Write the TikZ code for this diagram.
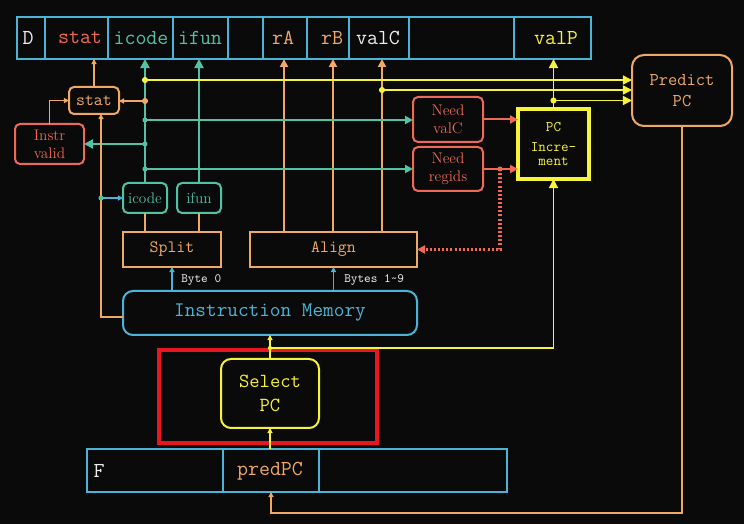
\documentclass[tikz,border=0pt]{standalone}
\usepackage{fontspec}
\usetikzlibrary{arrows.meta}
\definecolor{bgc}{HTML}{0A0A0A}
\definecolor{cblue}{HTML}{4CB4D6}
\definecolor{cteal}{HTML}{52C2A4}
\definecolor{corange}{HTML}{F0A965}
\definecolor{csalmon}{HTML}{EE6A56}
\definecolor{cyellow}{HTML}{F7F23A}
\definecolor{cred}{HTML}{E8161E}
\definecolor{cwhite}{HTML}{EEEEEE}
\tikzset{
  BigT/.tip={Triangle[length=6.8pt,width=6.8pt]},
  MidT/.tip={Triangle[length=6pt,width=6pt]},
  SmT/.tip={Triangle[length=3.8pt,width=3.8pt]},
  sz/.style 2 args={minimum width=#1*0.75pt,minimum height=#2*0.75pt},
  box/.style={inner sep=0pt,outer sep=0pt,align=center},
  cell/.style={box,draw=cblue,line width=1.8pt},
  regtxt/.style={inner sep=0pt,font=\ttfamily\fontsize{16}{19}\selectfont},
  ttbox/.style={box,line width=1.5pt,draw=corange,text=corange,font=\ttfamily\fontsize{13}{16}\selectfont},
  serifbox/.style={box,line width=1.5pt,rounded corners=3.75pt,font=\fontsize{11.5}{13.5}\selectfont},
  smalltxt/.style={inner sep=0pt,anchor=west,text=cwhite,font=\ttfamily\fontsize{9.5}{11}\selectfont},
  tline/.style={draw=cteal,line width=1.5pt},
  oline/.style={draw=corange,line width=1.5pt},
  othin/.style={draw=corange,line width=0.8pt},
  yline/.style={draw=cyellow,line width=1.1pt},
  ythin/.style={draw=cyellow,line width=0.8pt},
  sline/.style={draw=csalmon,line width=1.5pt},
  bline/.style={draw=cblue,line width=1.1pt},
}
\begin{document}
\begin{tikzpicture}[x=0.75pt,y=-0.75pt]
\useasboundingbox (0,0) rectangle (744,524);
\fill[bgc] (0,0) rectangle (744,524);

% ---------- D register
\node[cell,sz={28}{42}] (cD) at (31,38) {};
\node[cell,sz={63}{42}] (cstat) at (76.5,38) {};
\node[cell,sz={65}{42}] (cicode) at (140.5,38) {};
\node[cell,sz={55}{42}] (cifun) at (200.5,38) {};
\node[cell,sz={35}{42}] (cemA) at (245.5,38) {};
\node[cell,sz={44}{42}] (crA) at (285,38) {};
\node[cell,sz={42}{42}] (crB) at (328,38) {};
\node[cell,sz={60}{42}] (cvalC) at (379,38) {};
\node[cell,sz={105}{42}] (cemB) at (461.5,38) {};
\node[cell,sz={77}{42}] (cvalP) at (552.5,38) {};
\node[regtxt,text=cwhite] (tD) at (28,38) {D};
\node[regtxt,text=csalmon] (tstat) at (80,38) {stat};
\node[regtxt,text=cteal] (ticode) at (141,38) {icode};
\node[regtxt,text=cteal] (tifun) at (200,38) {ifun};
\node[regtxt,text=corange] (trA) at (283,38) {rA};
\node[regtxt,text=corange] (trB) at (332,38) {rB};
\node[regtxt,text=cwhite] (tvalC) at (378,38) {valC};
\node[regtxt,text=cyellow] (tvalP) at (556,38) {valP};

% ---------- F register
\node[cell,sz={136}{43}] (cF) at (155,470.5) {};
\node[cell,sz={96}{43}] (cpred) at (271,470.5) {};
\node[cell,sz={188}{43}] (cFb) at (413,470.5) {};
\node[regtxt,text=cwhite] (tF) at (99,471) {F};
\node[regtxt,text=corange] (tpred) at (270,471) {predPC};

% ---------- boxes
\node[ttbox,rounded corners=3.75pt,sz={50}{27}] (statb) at (94,100.5) {stat};
\node[serifbox,draw=csalmon,text=csalmon,sz={69}{40}] (instr) at (49.5,144) {Instr\\valid};
\node[serifbox,draw=cteal,text=cteal,sz={44}{30}] (icodeb) at (145,198) {icode};
\node[serifbox,draw=cteal,text=cteal,sz={44}{30}] (ifunb) at (199,198) {ifun};
\node[ttbox,sz={98}{35}] (split) at (172,249.5) {Split};
\node[ttbox,sz={167}{35}] (align) at (333.5,249.5) {Align};
\node[box,draw=cblue,text=cblue,line width=1.5pt,rounded corners=7.5pt,sz={294}{44},font=\ttfamily\fontsize{15.5}{18}\selectfont] (imem) at (270,313) {Instruction Memory};
\node[serifbox,draw=csalmon,text=csalmon,sz={70}{45}] (needc) at (448,119.5) {Need\\valC};
\node[serifbox,draw=csalmon,text=csalmon,sz={70}{44}] (needr) at (448,169) {Need\\regids};
\node[box,draw=cyellow,text=cyellow,line width=2.3pt,sz={71}{70},font=\ttfamily\fontsize{11}{10.5}\selectfont] (pcinc) at (553.5,144) {PC\\[4pt]Incre-\\ment};
\node[box,draw=corange,text=corange,line width=1.5pt,rounded corners=9pt,sz={100}{71},font=\ttfamily\fontsize{13.5}{15.75}\selectfont] (pred) at (682,90.5) {Predict\\PC};
\node[box,draw=cred,line width=2.3pt,sz={218}{93}] (redbox) at (268,396.5) {};
\node[box,draw=cyellow,text=cyellow,line width=1.5pt,rounded corners=7.5pt,sz={98}{69},font=\ttfamily\fontsize{15}{18}\selectfont] (selpc) at (270,393.5) {Select\\PC};

% ---------- junctions
\coordinate (j1) at (145,80);
\coordinate (j2) at (145,101);
\coordinate (j3) at (145,120);
\coordinate (j4) at (145,144);
\coordinate (j5) at (145,169);
\coordinate (j6) at (101,198);
\coordinate (j7) at (500,0 |- needr.east);
\coordinate (j8) at (selpc.north |- 0,348);
\coordinate (j9) at (pcinc.north |- 0,100.5);
\coordinate (j10) at (382,90);
\coordinate (m1) at ([yshift=-3pt]imem.west);

% ---------- connectors to D register
\draw[othin,-{SmT}] (statb.north) -- (statb.north |- cstat.south);
\draw[tline,-{BigT}] (icodeb.north) -- (icodeb.north |- cicode.south);
\draw[tline,-{BigT}] (ifunb.north) -- (ifunb.north |- cifun.south);
\draw[oline,-{MidT}] (284,0 |- align.north) -- (284,0 |- crA.south);
\draw[oline,-{MidT}] (333,0 |- align.north) -- (333,0 |- crB.south);
\draw[oline,-{MidT}] (382,0 |- align.north) -- (382,0 |- cvalC.south);
\draw[yline,line width=1.3pt,-{BigT}] (pcinc.north) -- (pcinc.north |- cvalP.south);

% ---------- horizontals
\draw[yline,-{BigT}] (j1) -- (j1 -| pred.west);
\draw[yline,-{BigT}] (j10) -- (j10 -| pred.west);
\draw[yline,-{BigT}] (j9) -- (j9 -| pred.west);
\draw[oline,line width=1.2pt,-{SmT}] (j2) -- (j2 -| statb.east);
\draw[tline,-{MidT}] (j3) -- (j3 -| needc.west);
\draw[tline,-{BigT}] (j4) -- (j4 -| instr.east);
\draw[tline,-{MidT}] (j5) -- (j5 -| needr.west);
\draw[othin,-{SmT}] (instr.north) |- (statb.west);
\draw[othin,-{SmT}] (m1) -| (101,0 |- statb.south);
\draw[bline,line width=0.9pt,-{SmT}] (j6) -- (j6 -| icodeb.west);

% ---------- split / align
\draw[oline] (icodeb.south) -- (icodeb.south |- split.north);
\draw[oline] (ifunb.south) -- (ifunb.south |- split.north);
\draw[bline,-{SmT}] (split.south |- imem.north) -- (split.south);
\draw[bline,-{SmT}] (align.south |- imem.north) -- (align.south);
\node[smalltxt] (lb0) at (181,280) {Byte 0};
\node[smalltxt] (lb1) at (344,280) {Bytes 1\string~9};

% ---------- need -> pc increment
\draw[sline,-{MidT}] (needc.east) -- (needc.east -| pcinc.west);
\draw[sline,-{MidT}] (needr.east) -- (needr.east -| pcinc.west);
\draw[draw=csalmon,line width=2.4pt,dash pattern=on 1.5pt off 1.6pt,-{MidT}] (j7) |- (align.east);

% ---------- lower yellow / orange
\draw[ythin,-{SmT}] (selpc.north) -- (selpc.north |- imem.south);
\draw[draw=cyellow,line width=1pt,-{BigT}] (j8) -| (pcinc.south);
\draw[ythin,-{SmT}] (selpc.south |- cpred.north) -- (selpc.south);
\draw[othin,-{SmT}] (pred.south) -- (pred.south |- 0,513) -| (cpred.south);

% ---------- dots
\fill[cyellow] (j1) circle (2.3pt);
\fill[cyellow] (j10) circle (2.3pt);
\fill[cyellow] (j9) circle (2.3pt);
\fill[cyellow] (j8) circle (1.6pt);
\fill[corange] (j2) circle (2.3pt);
\fill[cteal] (j3) circle (1.9pt);
\fill[cteal] (j4) circle (1.9pt);
\fill[cteal] (j5) circle (1.9pt);
\fill[cteal] (j6) circle (1.9pt);
\fill[csalmon] (j7) circle (1.9pt);
\end{tikzpicture}
\end{document}
